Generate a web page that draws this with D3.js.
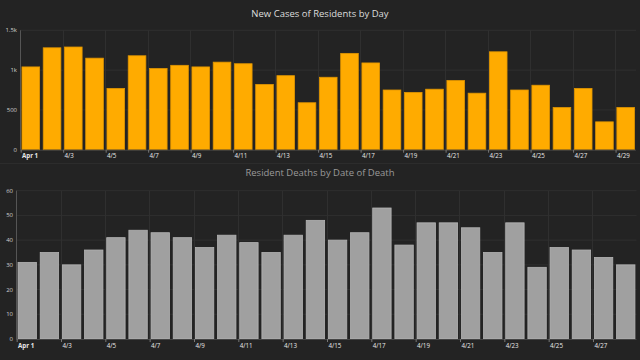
<!DOCTYPE html>
<html><head><meta charset="utf-8">
<script src="https://cdn.jsdelivr.net/npm/d3@7"></script>
<style>
html,body{margin:0;padding:0;background:#232323;}
svg{display:block;}
text{font-family:"Open Sans","Noto Sans",sans-serif;}
</style></head><body>
<svg id="c" width="640" height="360"></svg>
<script>
const caseDays = ["Apr 1","4/2","4/3","4/4","4/5","4/6","4/7","4/8","4/9","4/10","4/11","4/12","4/13","4/14","4/15","4/16","4/17","4/18","4/19","4/20","4/21","4/22","4/23","4/24","4/25","4/26","4/27","4/28","4/29"];
const caseValues = [1040,1280,1290,1150,770,1180,1020,1060,1040,1100,1080,820,930,590,910,1210,1090,750,720,760,870,710,1230,750,810,530,770,350,530];
const caseTicks = [0,500,1000,1500];
const caseTickLabels = ["0","500","1k","1.5k"];
const deathDays = caseDays.slice(0,28);
const deathValues = [31,35,30,36,41,44,43,41,37,42,39,35,42,48,40,43,53,38,47,47,45,35,47,29,37,36,33,30];
const deathTicks = [0,10,20,30,40,50,60];

const svg = d3.select("#c");

function panel(opt){
  const g = svg.append("g");
  const x = d3.scaleBand().domain(opt.days).range([opt.x0,opt.x1]).paddingInner(0.17).paddingOuter(0.07);
  const y = d3.scaleLinear().domain([0,opt.max]).range([opt.y0,opt.y1]);
  // horizontal grid
  g.selectAll("line.hg").data(opt.ticks.slice(1)).join("line")
    .attr("x1",opt.axisX).attr("x2",opt.x1).attr("y1",d=>y(d)).attr("y2",d=>y(d))
    .attr("stroke","#2f2f2f").attr("stroke-width",1);
  // vertical grid at every other day
  const lab = opt.days.filter((d,i)=>i%2===0);
  const bandStart = d => x(d) - x.step()*x.paddingInner()/2;
  g.selectAll("line.vg").data(lab.slice(1)).join("line")
    .attr("x1",d=>Math.round(bandStart(d))+0.5).attr("x2",d=>Math.round(bandStart(d))+0.5)
    .attr("y1",opt.y1).attr("y2",opt.y0)
    .attr("stroke","#2f2f2f").attr("stroke-width",1);
  // bars
  g.selectAll("rect").data(opt.values).join("rect")
    .attr("x",(d,i)=>x(opt.days[i])).attr("width",x.bandwidth())
    .attr("y",d=>y(d)).attr("height",d=>opt.y0-y(d))
    .attr("fill",opt.fill).attr("stroke",opt.stroke).attr("stroke-width",0.8);
  // y axis line
  g.append("line").attr("x1",opt.axisX+0.5).attr("x2",opt.axisX+0.5).attr("y1",opt.y1).attr("y2",opt.y0)
    .attr("stroke","#555");
  g.append("line").attr("x1",opt.axisX).attr("x2",opt.x1).attr("y1",opt.y0+0.5).attr("y2",opt.y0+0.5)
    .attr("stroke","#444");
  // y tick labels
  g.selectAll("text.yt").data(opt.ticks).join("text")
    .attr("x",opt.axisX-3).attr("y",d=>y(d)+2).attr("text-anchor","end")
    .attr("font-size",6).attr("fill","#cfcfcf").text((d,i)=>opt.tickLabels[i]);
  // x tick marks & labels
  g.selectAll("line.xt").data(lab).join("line")
    .attr("x1",d=>bandStart(d)+1).attr("x2",d=>bandStart(d)+1).attr("y1",opt.y0).attr("y2",opt.y0+3)
    .attr("stroke","#777");
  g.selectAll("text.xl").data(lab).join("text")
    .attr("x",d=>x(d)).attr("y",opt.y0+8.5)
    .attr("font-size",6.2).attr("fill","#e8e8e8")
    .attr("font-weight",(d,i)=>i===0?"bold":"normal").text(d=>d);
  // title
  svg.append("text").attr("x",320).attr("y",opt.titleY).attr("text-anchor","middle")
    .attr("font-size",9.5).attr("fill",opt.titleColor).text(opt.title);
}

panel({days:caseDays,values:caseValues,max:1500,ticks:caseTicks,tickLabels:caseTickLabels,
  x0:20.5,x1:636,y0:149.7,y1:30.3,axisX:20,fill:"#ffab00",stroke:"#e09500",
  title:"New Cases of Residents by Day",titleY:17,titleColor:"#dddddd"});

svg.append("line").attr("x1",0).attr("x2",640).attr("y1",163.5).attr("y2",163.5).attr("stroke","#2c2c2c");

panel({days:deathDays,values:deathValues,max:60,ticks:deathTicks,tickLabels:deathTicks.map(String),
  x0:16.5,x1:636.5,y0:339,y1:190.7,axisX:16,fill:"#a0a0a0",stroke:"#b4b4b4",
  title:"Resident Deaths by Date of Death",titleY:176,titleColor:"#9a9a9a"});
</script></body></html>
